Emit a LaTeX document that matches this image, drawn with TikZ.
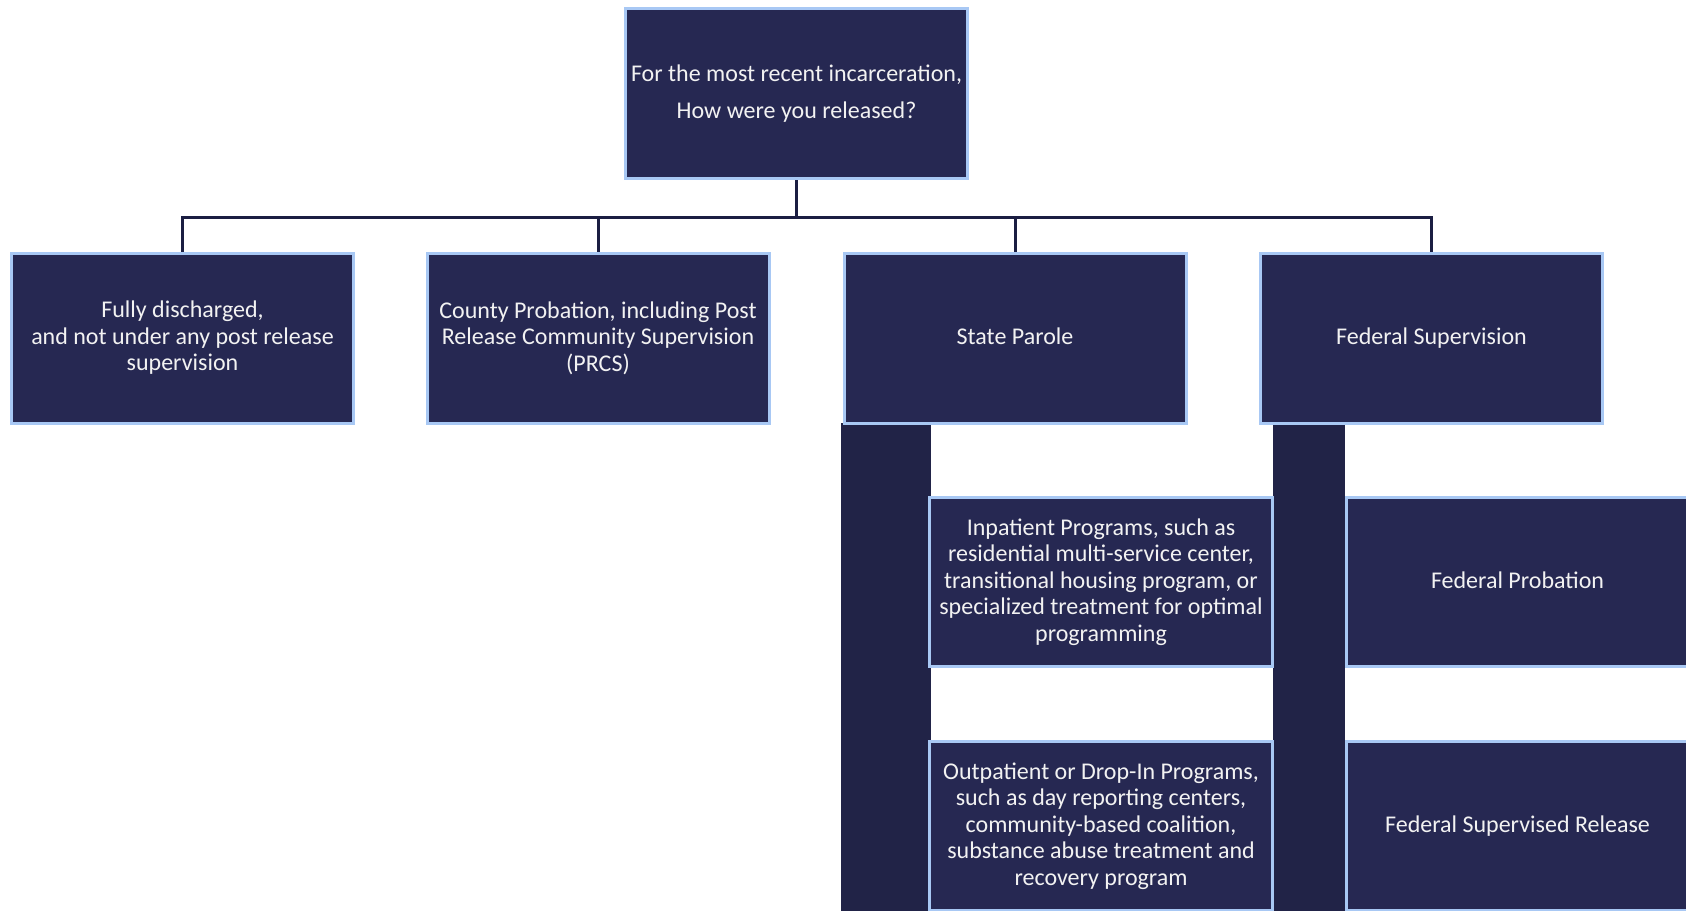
\documentclass[tikz,border=0pt]{standalone}
\usepackage{fontspec}
\setmainfont{Carlito}
\usetikzlibrary{backgrounds}
\definecolor{boxfill}{HTML}{262852}
\definecolor{boxline}{HTML}{A8C8F4}
\definecolor{barfill}{HTML}{212347}
\definecolor{connline}{HTML}{1B1E42}
\definecolor{txt}{HTML}{F2F2F2}
\newcommand\kstrut{\rule[-3.5pt]{0pt}{16pt}}
\tikzset{
  orgbox/.style={draw=boxline, fill=boxfill, line width=3pt, inner sep=0pt,
    minimum width=342pt, minimum height=170pt, align=center, text=txt,
    font=\fontsize{24}{26.5}\selectfont},
  conn/.style={draw=connline, line width=3pt},
  barshape/.style={fill=barfill}
}
\begin{document}
\begin{tikzpicture}[x=1pt,y=-1pt]
\useasboundingbox (0,0) rectangle (1686,910);
\clip (0,0) rectangle (1686,910);
\node[orgbox, font=\fontsize{24}{37}\selectfont] (top) at (796.5,93.5) {\kstrut For the most recent incarceration,\\How were you released?\kstrut};
\node[orgbox] (s1) at (182.5,338) {\kstrut Fully discharged,\\and not under any post release\\supervision\kstrut};
\node[orgbox] (s2) at (598,338) {\kstrut County Probation, including Post\\Release Community Supervision\\(PRCS)\kstrut};
\node[orgbox] (s3) at (1015,338) {\kstrut State Parole\kstrut};
\node[orgbox] (s4) at (1431.5,338) {\kstrut Federal Supervision\kstrut};
\node[orgbox, minimum width=343pt, minimum height=169pt] (in1) at (1101,582) {\kstrut Inpatient Programs, such as\\residential multi-service center,\\transitional housing program, or\\specialized treatment for optimal\\programming\kstrut};
\node[orgbox, minimum width=343pt, minimum height=169pt] (out1) at (1101,826) {\kstrut Outpatient or Drop-In Programs,\\such as day reporting centers,\\community-based coalition,\\substance abuse treatment and\\recovery program\kstrut};
\node[orgbox, minimum width=343pt, minimum height=169pt] (fp) at (1517.5,582) {\kstrut Federal Probation\kstrut};
\node[orgbox, minimum width=343pt, minimum height=169pt] (fsr) at (1517.5,826) {\kstrut Federal Supervised Release\kstrut};
\coordinate (bus) at (0,217.5);
\coordinate (floor) at (0,912);
\begin{pgfonlayer}{background}
\fill[barshape] ([xshift=-1.5pt,yshift=1.5pt]s3.south west) rectangle ([xshift=3pt]in1.west |- floor);
\fill[barshape] ([xshift=-1pt]in1.east |- s4.south) rectangle ([xshift=0pt]fp.west |- floor);
\end{pgfonlayer}
\draw[conn] (top.south) -- (top.south |- bus);
\draw[conn] (s1.north) -- (s1.north |- bus) -- (s4.north |- bus) -- (s4.north);
\draw[conn] (s2.north) -- (s2.north |- bus);
\draw[conn] (s3.north) -- (s3.north |- bus);
\end{tikzpicture}
\end{document}
